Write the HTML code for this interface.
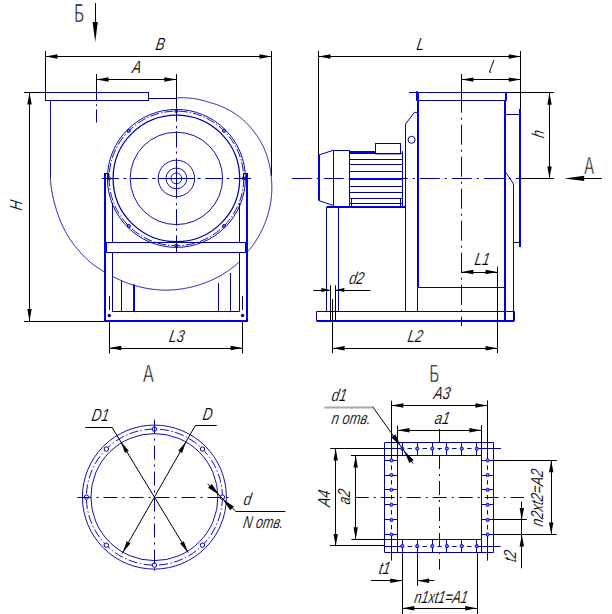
<!DOCTYPE html>
<html><head><meta charset="utf-8"><style>
html,body{margin:0;padding:0;background:#fff;width:612px;height:614px;overflow:hidden}
svg{display:block}
line,polyline,rect,circle,path{fill:none}
.k{stroke:#000;stroke-width:1}
.g{stroke:#aaa;stroke-width:2}
.bho{stroke:#000098;stroke-width:1;fill:#fff}
.kt{stroke:#222;stroke-width:1.1;fill:none}
.b{stroke:#000098;stroke-width:1}
.bs{stroke:#1010a8;stroke-width:1}
.bm{stroke:#0000a8;stroke-width:1.25}
.bd{stroke:#1010a8;stroke-width:1;stroke-dasharray:4 3}
.bda{stroke:#1010a8;stroke-width:1;stroke-dasharray:9 2.5 1.5 2.5}
.bdd{stroke:#1010a8;stroke-width:1;stroke-dasharray:9 2 1.5 2}
.bd2{stroke:#0000b8;stroke-width:1;stroke-dasharray:3 3}
.bh{stroke:#0000e0;stroke-width:1;fill:#8080ff}
.bf{fill:#0000b0;stroke:none}
.B{stroke:#0000e0;stroke-width:2}
.c1{stroke:#000098;stroke-width:1;stroke-dasharray:14 6 2 6}
.c2{stroke:#000098;stroke-width:1;stroke-dasharray:20 5 2 5}
.c3{stroke:#000098;stroke-width:1;stroke-dasharray:14 5 2 5}
.t{font-family:"Liberation Sans",sans-serif;font-style:italic;fill:#000;stroke:#fff;stroke-width:0.15px}
.tu{font-family:"Liberation Sans",sans-serif;fill:#000;stroke:#fff;stroke-width:0.6px}
</style></head><body>
<svg width="612" height="614" viewBox="0 0 612 614">
<text transform="translate(74.3,21.9) scale(0.6,1)" class="tu" font-size="25" text-anchor="start">Б</text>
<line x1="95.5" y1="3" x2="95.5" y2="30" class="k"/>
<polygon points="95.2,42 92.6,22 97.8,22" fill="#000"/>
<line x1="45.5" y1="51" x2="45.5" y2="92.5" class="k"/>
<line x1="271.5" y1="51" x2="271.5" y2="176" class="k"/>
<line x1="45.5" y1="56.5" x2="271.5" y2="56.5" class="k"/>
<polygon points="45.5,56.5 57.5,54.3 57.5,58.7" fill="#000"/>
<polygon points="271.5,56.5 259.5,58.7 259.5,54.3" fill="#000"/>
<text transform="translate(155,49.6) skewX(-10) scale(0.77,1)" class="t" font-size="17.4" text-anchor="start">B</text>
<line x1="96.5" y1="74" x2="96.5" y2="92.5" class="k"/>
<line x1="176.5" y1="74" x2="176.5" y2="108.5" class="k"/>
<line x1="96.5" y1="79.5" x2="176.4" y2="79.5" class="k"/>
<polygon points="96.5,79.5 108.5,77.3 108.5,81.7" fill="#000"/>
<polygon points="176.4,79.5 164.4,81.7 164.4,77.3" fill="#000"/>
<text transform="translate(131.5,72.6) skewX(-10) scale(0.77,1)" class="t" font-size="17.4" text-anchor="start">A</text>
<line x1="24" y1="92.5" x2="45.5" y2="92.5" class="k"/>
<line x1="24" y1="321.5" x2="104" y2="321.5" class="k"/>
<line x1="29.5" y1="92.5" x2="29.5" y2="321" class="k"/>
<polygon points="29.5,92.5 31.7,104.5 27.3,104.5" fill="#000"/>
<polygon points="29.5,321 27.3,309 31.7,309" fill="#000"/>
<text transform="translate(21.5,211) rotate(-90) skewX(-10) scale(0.77,1)" class="t" font-size="17.4" text-anchor="start">H</text>
<rect x="45.5" y="92.5" width="103" height="8" class="b"/>
<line x1="148.5" y1="98.5" x2="176.4" y2="98.5" class="b"/>
<line x1="50.5" y1="100.5" x2="50.5" y2="178.4" class="bs"/>
<polyline points="176.4,97.9 176.96,97.86 177.53,97.83 178.09,97.8 178.65,97.78 179.22,97.76 179.78,97.74 180.35,97.73 180.91,97.72 181.48,97.72 182.04,97.71 182.61,97.72 183.17,97.72 183.74,97.74 184.31,97.75 184.87,97.77 185.44,97.79 186.01,97.82 186.58,97.85 187.14,97.89 187.71,97.93 188.28,97.97 188.84,98.02 189.41,98.07 189.98,98.12 190.54,98.18 191.11,98.24 191.68,98.31 192.24,98.38 192.81,98.46 193.38,98.54 193.94,98.62 194.51,98.71 195.07,98.8 195.63,98.89 196.2,98.99 196.76,99.09 197.33,99.2 197.89,99.31 198.45,99.43 199.01,99.55 199.57,99.67 200.13,99.8 200.69,99.93 201.25,100.06 201.81,100.2 202.37,100.35 202.92,100.49 203.48,100.64 204.03,100.8 204.59,100.96 205.14,101.12 205.69,101.29 206.24,101.46 206.79,101.63 207.34,101.81 207.89,101.99 208.44,102.18 209,102.34 209.57,102.48 210.14,102.63 210.7,102.78 211.27,102.93 211.84,103.09 212.4,103.25 212.97,103.42 213.54,103.59 214.1,103.76 214.67,103.94 215.23,104.13 215.79,104.31 216.35,104.51 216.92,104.7 217.48,104.9 218.04,105.11 218.6,105.31 219.15,105.53 219.71,105.74 220.27,105.97 220.82,106.19 221.38,106.42 221.93,106.66 222.48,106.89 223.03,107.14 223.58,107.38 224.13,107.63 224.68,107.89 225.23,108.15 225.77,108.41 226.31,108.68 226.86,108.95 227.4,109.23 227.94,109.51 228.48,109.79 229.01,110.08 229.55,110.37 230.08,110.67 230.61,110.97 231.14,111.28 231.67,111.59 232.2,111.9 232.72,112.22 233.25,112.54 233.77,112.87 234.29,113.2 234.81,113.53 235.33,113.87 235.84,114.21 236.35,114.56 236.86,114.91 237.37,115.26 237.88,115.62 238.39,115.98 238.89,116.35 239.39,116.72 239.89,117.09 240.38,117.47 240.88,117.85 241.36,118.25 241.83,118.65 242.3,119.06 242.76,119.48 243.23,119.9 243.69,120.32 244.14,120.75 244.6,121.18 245.05,121.61 245.5,122.05 245.94,122.49 246.39,122.93 246.83,123.38 247.27,123.83 247.7,124.28 248.13,124.74 248.56,125.2 248.99,125.66 249.41,126.13 249.83,126.6 250.25,127.07 250.66,127.55 251.08,128.03 251.48,128.51 251.89,129 252.29,129.49 252.69,129.99 253.08,130.48 253.48,130.98 253.87,131.48 254.25,131.99 254.63,132.5 255.01,133.01 255.39,133.53 255.76,134.05 256.13,134.57 256.5,135.09 256.86,135.62 257.22,136.15 257.57,136.68 257.92,137.22 258.27,137.76 258.62,138.3 258.96,138.84 259.3,139.39 259.63,139.94 259.96,140.5 260.29,141.05 260.61,141.61 260.93,142.17 261.24,142.74 261.56,143.3 261.86,143.87 262.17,144.44 262.47,145.02 262.76,145.59 263.06,146.17 263.35,146.75 263.63,147.34 263.91,147.93 264.18,148.52 264.43,149.12 264.68,149.72 264.92,150.32 265.16,150.92 265.4,151.53 265.63,152.14 265.86,152.75 266.08,153.36 266.3,153.97 266.52,154.59 266.73,155.21 266.93,155.83 267.14,156.45 267.33,157.07 267.53,157.7 267.72,158.32 267.9,158.95 268.08,159.58 268.26,160.21 268.43,160.84 268.6,161.48 268.76,162.11 268.92,162.75 269.08,163.39 269.23,164.03 269.37,164.67 269.52,165.31 269.65,165.96 269.79,166.6 269.91,167.25 270.04,167.9 270.16,168.55 270.27,169.2 270.38,169.85 270.49,170.5 270.59,171.15 270.69,171.81 270.78,172.46 270.87,173.12 270.95,173.78 271.03,174.43 271.1,175.09 271.17,175.75 271.23,176.41 271.29,177.07 271.35,177.74 271.4,178.4 271.46,179.06 271.52,179.73 271.57,180.39 271.62,181.06 271.66,181.73 271.7,182.39 271.73,183.06 271.76,183.73 271.78,184.4 271.8,185.07 271.82,185.74 271.83,186.41 271.83,187.08 271.83,187.76 271.83,188.43 271.82,189.1 271.8,189.78 271.78,190.45 271.76,191.12 271.73,191.8 271.7,192.47 271.66,193.15 271.62,193.82 271.57,194.5 271.52,195.17 271.46,195.85 271.4,196.52 271.33,197.2 271.26,197.87 271.19,198.55 271.11,199.22 271.02,199.9 270.93,200.57 270.83,201.25 270.73,201.92 270.63,202.59 270.52,203.27 270.4,203.94 270.28,204.61 270.16,205.29 270.03,205.96 269.9,206.63 269.76,207.3 269.62,207.97 269.47,208.64 269.31,209.31 269.16,209.98 268.99,210.64 268.83,211.31 268.65,211.98 268.48,212.64 268.29,213.31 268.11,213.97 267.92,214.63 267.72,215.3 267.52,215.96 267.31,216.62 267.1,217.27 266.89,217.93 266.67,218.59 266.44,219.24 266.21,219.9 265.98,220.55 265.74,221.2 265.49,221.85 265.25,222.5 264.99,223.15 264.73,223.8 264.47,224.44 264.2,225.09 263.93,225.73 263.65,226.37 263.37,227.01 263.09,227.64 262.8,228.28 262.5,228.91 262.2,229.55 261.89,230.18 261.59,230.81 261.27,231.43 260.95,232.06 260.63,232.68 260.3,233.3 259.97,233.92 259.63,234.54 259.29,235.16 258.94,235.77 258.59,236.38 258.24,236.99 257.88,237.6 257.51,238.2 257.15,238.81 256.77,239.41 256.4,240 256.01,240.6 255.63,241.19 255.24,241.79 254.84,242.37 254.44,242.96 254.04,243.55 253.63,244.13 253.22,244.71 252.8,245.28 252.38,245.86 251.95,246.43 251.52,247 251.09,247.56 250.65,248.12 250.21,248.69 249.76,249.24 249.31,249.8 248.85,250.35 248.39,250.9 248.05,251.31" class="bs"/>
<polyline points="238.88,262.23 238.34,262.72 237.79,263.21 237.24,263.69 236.68,264.17 236.12,264.65 235.56,265.12 234.99,265.59 234.42,266.06 233.84,266.52 233.27,266.98 232.68,267.43 232.1,267.88 231.51,268.33 230.92,268.77 230.32,269.21 229.72,269.65 229.12,270.08 228.51,270.51 227.9,270.93 227.29,271.35 226.67,271.76 226.05,272.17 225.43,272.58 224.8,272.98 224.17,273.38 223.54,273.78 222.9,274.17 222.26,274.55 221.62,274.94 220.98,275.31 220.33,275.69 219.67,276.06 219.02,276.42 218.36,276.78 217.7,277.14 217.04,277.49 216.37,277.83 215.7,278.18 215.03,278.51 214.36,278.85 213.68,279.18 213,279.5 212.31,279.82 211.63,280.14 210.94,280.45 210.25,280.75 209.56,281.05 208.86,281.35 208.16,281.64 207.46,281.93 206.76,282.21 206.05,282.49 205.34,282.76 204.63,283.03 203.92,283.29 203.2,283.55 202.48,283.8 201.76,284.05 201.04,284.29 200.32,284.53 199.59,284.76 198.86,284.99 198.13,285.22 197.4,285.44 196.66,285.65 195.93,285.86 195.19,286.06 194.45,286.26 193.71,286.45 192.96,286.64 192.22,286.82 191.47,287 190.72,287.17 189.97,287.34 189.22,287.51 188.46,287.68 187.71,287.84 186.95,287.99 186.19,288.14 185.43,288.29 184.67,288.43 183.91,288.56 183.15,288.69 182.38,288.82 181.61,288.94 180.84,289.05 180.07,289.16 179.3,289.26 178.53,289.36 177.76,289.45 176.98,289.54 176.21,289.62 175.43,289.7 174.65,289.77 173.87,289.83 173.09,289.89 172.31,289.95 171.53,289.99 170.74,290.04 169.96,290.07 169.18,290.11 168.39,290.13 167.61,290.14 166.82,290.14 166.03,290.14 165.25,290.13 164.46,290.12 163.67,290.1 162.89,290.08 162.1,290.05 161.31,290.01 160.52,289.97 159.73,289.92 158.94,289.87 158.16,289.81 157.37,289.75 156.58,289.68 155.79,289.6 155,289.52 154.21,289.44 153.42,289.35 152.64,289.25 151.85,289.15 151.06,289.04 150.27,288.93 149.49,288.81 148.7,288.68 147.91,288.55 147.13,288.41 146.34,288.27 145.56,288.12 144.77,287.97 143.99,287.81 143.21,287.65 142.43,287.48 141.64,287.3 140.86,287.12 140.08,286.94 139.31,286.74 138.53,286.55 137.75,286.34 136.98,286.13 136.2,285.92 135.43,285.7 134.65,285.47 133.88,285.24 133.11,285 132.34,284.76 131.58,284.51 130.81,284.26 130.04,284 129.28,283.74 128.52,283.47 127.76,283.19 127,282.91 126.24,282.62 125.48,282.33 124.73,282.03 123.98,281.73 123.23,281.42 122.48,281.11 121.73,280.79 120.98,280.47 120.24,280.14 119.5,279.8 118.76,279.46 118.02,279.11 117.28,278.76 116.55,278.4 115.82,278.04 115.09,277.67 114.36,277.3 113.64,276.92 112.91,276.54 112.91,276.54" class="bs"/>
<polyline points="103.99,271.75 103.28,271.32 102.57,270.89 101.86,270.45 101.15,270.01 100.45,269.56 99.75,269.11 99.05,268.65 98.35,268.19 97.66,267.72 96.97,267.24 96.28,266.76 95.59,266.28 94.91,265.78 94.23,265.29 93.56,264.79 92.88,264.28 92.21,263.77 91.55,263.25 90.91,262.71 90.27,262.15 89.64,261.6 89.01,261.04 88.39,260.47 87.77,259.9 87.15,259.32 86.54,258.74 85.93,258.16 85.33,257.57 84.72,256.98 84.13,256.38 83.53,255.77 82.94,255.17 82.36,254.56 81.77,253.94 81.2,253.32 80.62,252.69 80.05,252.06 79.49,251.43 78.92,250.79 78.37,250.15 77.81,249.5 77.26,248.85 76.72,248.2 76.18,247.54 75.64,246.87 75.11,246.21 74.58,245.54 74.06,244.86 73.54,244.18 73.03,243.5 72.52,242.81 72.02,242.12 71.51,241.42 71.02,240.72 70.53,240.02 70.04,239.31 69.56,238.6 69.08,237.89 68.64,237.15 68.2,236.42 67.76,235.68 67.33,234.94 66.91,234.19 66.49,233.44 66.07,232.69 65.66,231.93 65.26,231.18 64.86,230.41 64.46,229.65 64.07,228.88 63.69,228.11 63.31,227.34 62.94,226.56 62.57,225.78 62.21,225 61.85,224.22 61.5,223.43 61.15,222.64 60.81,221.85 60.47,221.05 60.14,220.26 59.82,219.46 59.5,218.65 59.18,217.85 58.88,217.04 58.57,216.23 58.28,215.42 57.99,214.6 57.7,213.79 57.42,212.97 57.15,212.15 56.88,211.32 56.61,210.5 56.36,209.67 56.1,208.84 55.86,208.01 55.62,207.17 55.38,206.34 55.14,205.51 54.9,204.67 54.66,203.83 54.43,202.99 54.21,202.15 53.99,201.31 53.78,200.46 53.58,199.62 53.38,198.77 53.18,197.92 52.99,197.06 52.81,196.21 52.64,195.35 52.47,194.5 52.3,193.64 52.14,192.78 51.99,191.92 51.84,191.05 51.7,190.19 51.57,189.32 51.44,188.45 51.32,187.59 51.2,186.72 51.09,185.84 50.99,184.97 50.89,184.1 50.8,183.23 50.71,182.35 50.63,181.47 50.56,180.6 50.49,179.72 50.43,178.84 50.4,178.4" class="bs"/>
<circle cx="176.4" cy="178.4" r="69" class="bs"/>
<circle cx="176.4" cy="178.4" r="67.3" class="bdd"/>
<circle cx="176.4" cy="178.4" r="63.3" class="bm"/>
<circle cx="243.7" cy="178.4" r="1.5" class="bh"/>
<circle cx="223.99" cy="225.99" r="1.5" class="bh"/>
<circle cx="176.4" cy="245.7" r="1.5" class="bh"/>
<circle cx="128.81" cy="225.99" r="1.5" class="bh"/>
<circle cx="109.1" cy="178.4" r="1.5" class="bh"/>
<circle cx="128.81" cy="130.81" r="1.5" class="bh"/>
<circle cx="176.4" cy="111.1" r="1.5" class="bh"/>
<circle cx="223.99" cy="130.81" r="1.5" class="bh"/>
<circle cx="176.4" cy="178.4" r="46.2" class="bs"/>
<circle cx="176.4" cy="178.4" r="18.2" class="bs"/>
<circle cx="176.4" cy="178.4" r="10.4" class="bs"/>
<circle cx="176.4" cy="178.4" r="5.4" class="bs"/>
<line x1="101.7" y1="178.5" x2="118.9" y2="178.5" class="b"/>
<line x1="123.5" y1="178.5" x2="126.1" y2="178.5" class="b"/>
<line x1="130.7" y1="178.5" x2="147.7" y2="178.5" class="b"/>
<line x1="152.2" y1="178.5" x2="155.5" y2="178.5" class="b"/>
<line x1="158.2" y1="178.5" x2="194.6" y2="178.5" class="b"/>
<line x1="197.3" y1="178.5" x2="200.6" y2="178.5" class="b"/>
<line x1="205.1" y1="178.5" x2="222.1" y2="178.5" class="b"/>
<line x1="226.7" y1="178.5" x2="229.3" y2="178.5" class="b"/>
<line x1="233.9" y1="178.5" x2="251.1" y2="178.5" class="b"/>
<line x1="176.5" y1="108.5" x2="176.5" y2="121.5" class="b"/>
<line x1="176.5" y1="126" x2="176.5" y2="128.4" class="b"/>
<line x1="176.5" y1="131.3" x2="176.5" y2="147.6" class="b"/>
<line x1="176.5" y1="151.5" x2="176.5" y2="153.7" class="b"/>
<line x1="176.5" y1="158.2" x2="176.5" y2="198.6" class="b"/>
<line x1="176.5" y1="203.1" x2="176.5" y2="205.3" class="b"/>
<line x1="176.5" y1="209.2" x2="176.5" y2="225.5" class="b"/>
<line x1="176.5" y1="228.4" x2="176.5" y2="230.8" class="b"/>
<line x1="176.5" y1="235.3" x2="176.5" y2="252.4" class="b"/>
<line x1="96.5" y1="92.5" x2="96.5" y2="100.5" class="b"/>
<line x1="96.5" y1="104.3" x2="96.5" y2="106" class="b"/>
<line x1="96.5" y1="109.4" x2="96.5" y2="122.5" class="b"/>
<line x1="105" y1="173" x2="105" y2="321.5" class="B"/>
<line x1="104.4" y1="173.5" x2="108.8" y2="173.5" class="b"/>
<line x1="108.5" y1="173" x2="108.5" y2="178" class="b"/>
<line x1="112.5" y1="203" x2="112.5" y2="242.5" class="b"/>
<line x1="112.5" y1="252.5" x2="112.5" y2="311.5" class="b"/>
<line x1="247" y1="173" x2="247" y2="321.5" class="B"/>
<line x1="239.5" y1="203" x2="239.5" y2="242.5" class="b"/>
<line x1="239.5" y1="252.5" x2="239.5" y2="311.5" class="b"/>
<line x1="248" y1="173.5" x2="243.6" y2="173.5" class="b"/>
<line x1="243.5" y1="173" x2="243.5" y2="178" class="b"/>
<line x1="105" y1="242.5" x2="246" y2="242.5" class="b"/>
<line x1="105" y1="252.5" x2="246" y2="252.5" class="b"/>
<line x1="106" y1="242.5" x2="106" y2="252.5" class="B"/>
<line x1="246" y1="242.5" x2="246" y2="252.5" class="B"/>
<line x1="104" y1="321" x2="248" y2="321" class="B"/>
<line x1="112.4" y1="311.5" x2="239.5" y2="311.5" class="b"/>
<line x1="121.5" y1="280.5" x2="121.5" y2="311.5" class="b"/>
<line x1="134" y1="284.5" x2="134" y2="311.5" class="B"/>
<line x1="218.5" y1="283" x2="218.5" y2="311.5" class="b"/>
<line x1="230.5" y1="273" x2="230.5" y2="311.5" class="b"/>
<line x1="109.5" y1="296" x2="109.5" y2="310" class="b"/>
<circle cx="109.3" cy="315.5" r="1.7" class="bf"/>
<line x1="242.5" y1="296" x2="242.5" y2="310" class="b"/>
<circle cx="242.6" cy="315.5" r="1.7" class="bf"/>
<line x1="109.5" y1="321" x2="109.5" y2="353.5" class="k"/>
<line x1="242.5" y1="321" x2="242.5" y2="353.5" class="k"/>
<line x1="109.3" y1="348.5" x2="242.6" y2="348.5" class="k"/>
<polygon points="109.3,348 121.3,345.8 121.3,350.2" fill="#000"/>
<polygon points="242.6,348 230.6,350.2 230.6,345.8" fill="#000"/>
<text transform="translate(168.5,342.2) skewX(-10) scale(0.77,1)" class="t" font-size="17.4" text-anchor="start">L3</text>
<line x1="318.5" y1="51" x2="318.5" y2="155" class="k"/>
<line x1="520.5" y1="51" x2="520.5" y2="109.1" class="k"/>
<line x1="318.5" y1="56.5" x2="520.8" y2="56.5" class="k"/>
<polygon points="318.5,56.5 330.5,54.3 330.5,58.7" fill="#000"/>
<polygon points="520.8,56.5 508.8,58.7 508.8,54.3" fill="#000"/>
<text transform="translate(416,50) skewX(-10) scale(0.77,1)" class="t" font-size="17.4" text-anchor="start">L</text>
<line x1="461.5" y1="74" x2="461.5" y2="92.7" class="k"/>
<line x1="461.4" y1="79.5" x2="520.8" y2="79.5" class="k"/>
<polygon points="461.4,79.6 473.4,77.4 473.4,81.8" fill="#000"/>
<polygon points="520.8,79.6 508.8,81.8 508.8,77.4" fill="#000"/>
<path d="M494,60 L489.6,71.3 Q489.3,72.6 491.3,72" class="kt"/>
<line x1="507" y1="92.5" x2="554" y2="92.5" class="k"/>
<line x1="520.8" y1="178.5" x2="554" y2="178.5" class="k"/>
<line x1="549.5" y1="92.7" x2="549.5" y2="178.4" class="k"/>
<polygon points="549.5,92.7 551.7,104.7 547.3,104.7" fill="#000"/>
<polygon points="549.5,178.4 547.3,166.4 551.7,166.4" fill="#000"/>
<text transform="translate(543.8,138.5) rotate(-90) skewX(-10) scale(0.77,1)" class="t" font-size="17.4" text-anchor="start">h</text>
<line x1="583" y1="178.5" x2="601.7" y2="178.5" class="k"/>
<polygon points="564.2,178.4 584.2,175.8 584.2,181" fill="#000"/>
<text transform="translate(584.3,173.5) scale(0.6,1)" class="tu" font-size="24.5" text-anchor="start">A</text>
<line x1="291.8" y1="178.5" x2="520" y2="178.5" class="c2"/>
<line x1="461.5" y1="92.7" x2="461.5" y2="326" class="c2"/>
<line x1="409" y1="92.5" x2="507" y2="92.5" class="b"/>
<line x1="417" y1="100.5" x2="506" y2="100.5" class="b"/>
<line x1="417" y1="91.2" x2="417" y2="100.7" class="B"/>
<line x1="506" y1="92" x2="506" y2="100.7" class="B"/>
<line x1="418" y1="92.7" x2="418" y2="287.6" class="B"/>
<line x1="417.5" y1="287.6" x2="417.5" y2="311.5" class="b"/>
<line x1="505" y1="100.5" x2="505" y2="321" class="B"/>
<line x1="417.8" y1="287.5" x2="505" y2="287.5" class="b"/>
<line x1="505" y1="114.5" x2="520.3" y2="114.5" class="b"/>
<line x1="520" y1="109.1" x2="520" y2="247" class="B"/>
<line x1="513.7" y1="242.5" x2="520.3" y2="242.5" class="b"/>
<line x1="505.9" y1="172.4" x2="513.7" y2="184.2" class="b"/>
<line x1="513.5" y1="184.2" x2="513.5" y2="321" class="b"/>
<line x1="316.6" y1="311.5" x2="514.3" y2="311.5" class="b"/>
<line x1="316.6" y1="321" x2="514.3" y2="321" class="B"/>
<line x1="316.5" y1="311.5" x2="316.5" y2="320.8" class="b"/>
<line x1="514.5" y1="311.5" x2="514.5" y2="320.8" class="b"/>
<line x1="326.5" y1="206.9" x2="326.5" y2="311.5" class="b"/>
<line x1="338.5" y1="206.9" x2="338.5" y2="311.5" class="b"/>
<line x1="405.5" y1="124.1" x2="405.5" y2="311.5" class="b"/>
<line x1="326.7" y1="207" x2="405.5" y2="207" class="B"/>
<polyline points="405.5,124.1 414.4,112.4 417.9,112.4" class="b"/>
<circle cx="411.6" cy="139.8" r="3.5" class="b"/>
<line x1="333.5" y1="150.2" x2="318.8" y2="155" class="b"/>
<line x1="318.8" y1="200.6" x2="333.5" y2="205.5" class="b"/>
<line x1="319" y1="155" x2="319" y2="200.6" class="B"/>
<line x1="333.5" y1="150" x2="333.5" y2="205.5" class="b"/>
<line x1="333.5" y1="150.5" x2="349.8" y2="150.5" class="b"/>
<line x1="349.5" y1="150.4" x2="349.5" y2="206" class="b"/>
<line x1="349.8" y1="152" x2="375.2" y2="152" class="B"/>
<rect x="375.5" y="143.5" width="25" height="10.4" class="b"/>
<line x1="349.8" y1="153.5" x2="402.3" y2="153.5" class="b"/>
<line x1="349.8" y1="159.5" x2="402.3" y2="159.5" class="b"/>
<line x1="349.8" y1="164.5" x2="402.3" y2="164.5" class="b"/>
<line x1="349.8" y1="171.5" x2="402.3" y2="171.5" class="b"/>
<line x1="349.8" y1="186.5" x2="402.3" y2="186.5" class="b"/>
<line x1="349.8" y1="192.5" x2="402.3" y2="192.5" class="b"/>
<line x1="349.8" y1="198.5" x2="402.3" y2="198.5" class="b"/>
<line x1="349.8" y1="203.5" x2="402.3" y2="203.5" class="b"/>
<line x1="349.8" y1="179" x2="402.3" y2="179" class="B"/>
<line x1="402.5" y1="151.2" x2="402.5" y2="206" class="b"/>
<line x1="400.5" y1="198.5" x2="400.5" y2="206" class="b"/>
<line x1="351.5" y1="198.5" x2="351.5" y2="206" class="b"/>
<line x1="330.5" y1="285.4" x2="330.5" y2="320" class="k"/>
<line x1="335.5" y1="285.4" x2="335.5" y2="320" class="k"/>
<line x1="313.3" y1="290.5" x2="330.4" y2="290.5" class="k"/>
<line x1="335.4" y1="290.5" x2="370.5" y2="290.5" class="k"/>
<polygon points="330.4,290.1 321.4,292.1 321.4,288.1" fill="#000"/>
<polygon points="335.4,290.1 344.4,288.1 344.4,292.1" fill="#000"/>
<text transform="translate(348.4,284) skewX(-10) scale(0.77,1)" class="t" font-size="17.4" text-anchor="start">d2</text>
<line x1="332.5" y1="299" x2="332.5" y2="353.2" class="k"/>
<line x1="497.5" y1="266.7" x2="497.5" y2="353" class="k"/>
<line x1="332.6" y1="348.5" x2="497.5" y2="348.5" class="k"/>
<polygon points="332.6,348.2 344.6,346 344.6,350.4" fill="#000"/>
<polygon points="497.5,348.2 485.5,350.4 485.5,346" fill="#000"/>
<text transform="translate(407,342) skewX(-10) scale(0.77,1)" class="t" font-size="17.4" text-anchor="start">L2</text>
<line x1="461.4" y1="272.5" x2="497.5" y2="272.5" class="k"/>
<polygon points="461.4,272 473.4,269.8 473.4,274.2" fill="#000"/>
<polygon points="497.5,272 485.5,274.2 485.5,269.8" fill="#000"/>
<text transform="translate(474,265) skewX(-10) scale(0.77,1)" class="t" font-size="17.4" text-anchor="start">L1</text>
<text transform="translate(143.1,382) scale(0.66,1)" class="tu" font-size="24.5" text-anchor="start">A</text>
<circle cx="154.4" cy="497.1" r="72" class="bs"/>
<circle cx="154.4" cy="497.1" r="68" class="bda"/>
<circle cx="154.4" cy="497.1" r="63.5" class="bs"/>
<circle cx="222.4" cy="497.1" r="2.2" class="bho"/>
<circle cx="202.48" cy="545.18" r="2.2" class="bho"/>
<circle cx="154.4" cy="565.1" r="2.2" class="bho"/>
<circle cx="106.32" cy="545.18" r="2.2" class="bho"/>
<circle cx="86.4" cy="497.1" r="2.2" class="bho"/>
<circle cx="106.32" cy="449.02" r="2.2" class="bho"/>
<circle cx="154.4" cy="429.1" r="2.2" class="bho"/>
<circle cx="202.48" cy="449.02" r="2.2" class="bho"/>
<line x1="77.5" y1="497.5" x2="231" y2="497.5" class="c3"/>
<line x1="154.5" y1="419.6" x2="154.5" y2="575.5" class="c3"/>
<line x1="85.3" y1="427.5" x2="111.8" y2="427.5" class="k"/>
<line x1="111.8" y1="427" x2="188.16" y2="552.65" class="k"/>
<polygon points="120.64,441.55 128.76,450.67 125,452.95" fill="#000"/>
<polygon points="188.16,552.65 180.04,543.53 183.8,541.25" fill="#000"/>
<text transform="translate(91,420.7) skewX(-10) scale(0.77,1)" class="t" font-size="17.4" text-anchor="start">D1</text>
<line x1="195.3" y1="425.5" x2="216.7" y2="425.5" class="k"/>
<line x1="195.3" y1="425.5" x2="122.16" y2="553.54" class="k"/>
<polygon points="186.14,441.53 182.1,453.04 178.28,450.86" fill="#000"/>
<polygon points="122.66,552.67 126.7,541.16 130.52,543.34" fill="#000"/>
<text transform="translate(202,419.5) skewX(-10) scale(0.77,1)" class="t" font-size="17.4" text-anchor="start">D</text>
<line x1="207.6" y1="483.9" x2="235.8" y2="511.3" class="k"/>
<line x1="235.8" y1="511.5" x2="285.3" y2="511.5" class="k"/>
<polygon points="219.3,495 208.16,487.81 211.79,484.08" fill="#000"/>
<polygon points="222.7,499.3 233.84,506.49 230.21,510.22" fill="#000"/>
<text transform="translate(243,505) skewX(-10) scale(0.77,1)" class="t" font-size="17.4" text-anchor="start">d</text>
<text transform="translate(242.6,527.7) skewX(-10) scale(0.74,1)" class="t" font-size="17" text-anchor="start">N отв.</text>
<text transform="translate(429.5,381.5) scale(0.6,1)" class="tu" font-size="24.5" text-anchor="start">Б</text>
<line x1="384.5" y1="442.5" x2="493.6" y2="442.5" class="b"/>
<line x1="384.5" y1="552.5" x2="493.6" y2="552.5" class="b"/>
<line x1="384.5" y1="442.5" x2="384.5" y2="552.3" class="b"/>
<line x1="493.5" y1="442.5" x2="493.5" y2="552.3" class="b"/>
<line x1="397.5" y1="442.5" x2="397.5" y2="552.3" class="b"/>
<line x1="481.5" y1="442.5" x2="481.5" y2="552.3" class="b"/>
<line x1="397.5" y1="455.5" x2="481.6" y2="455.5" class="b"/>
<line x1="397.5" y1="539.5" x2="481.6" y2="539.5" class="b"/>
<line x1="384.5" y1="448.5" x2="402.3" y2="448.5" class="b"/>
<line x1="407.55" y1="448.5" x2="411.95" y2="448.5" class="b"/>
<line x1="422.55" y1="448.5" x2="426.95" y2="448.5" class="b"/>
<line x1="437.4" y1="448.5" x2="441.8" y2="448.5" class="b"/>
<line x1="452.15" y1="448.5" x2="456.55" y2="448.5" class="b"/>
<line x1="467.1" y1="448.5" x2="471.5" y2="448.5" class="b"/>
<line x1="476.8" y1="448.5" x2="501" y2="448.5" class="b"/>
<line x1="384.5" y1="546.5" x2="402.3" y2="546.5" class="b"/>
<line x1="407.55" y1="546.5" x2="411.95" y2="546.5" class="b"/>
<line x1="422.55" y1="546.5" x2="426.95" y2="546.5" class="b"/>
<line x1="437.4" y1="546.5" x2="441.8" y2="546.5" class="b"/>
<line x1="452.15" y1="546.5" x2="456.55" y2="546.5" class="b"/>
<line x1="467.1" y1="546.5" x2="471.5" y2="546.5" class="b"/>
<line x1="476.8" y1="546.5" x2="500.6" y2="546.5" class="b"/>
<line x1="391.5" y1="442.5" x2="391.5" y2="460.3" class="b"/>
<line x1="391.5" y1="465.45" x2="391.5" y2="469.85" class="b"/>
<line x1="391.5" y1="480.2" x2="391.5" y2="484.6" class="b"/>
<line x1="391.5" y1="495.05" x2="391.5" y2="499.45" class="b"/>
<line x1="391.5" y1="510.1" x2="391.5" y2="514.5" class="b"/>
<line x1="391.5" y1="525" x2="391.5" y2="529.4" class="b"/>
<line x1="391.5" y1="534.5" x2="391.5" y2="560.6" class="b"/>
<line x1="487.5" y1="442.5" x2="487.5" y2="460.3" class="b"/>
<line x1="487.5" y1="465.45" x2="487.5" y2="469.85" class="b"/>
<line x1="487.5" y1="480.2" x2="487.5" y2="484.6" class="b"/>
<line x1="487.5" y1="495.05" x2="487.5" y2="499.45" class="b"/>
<line x1="487.5" y1="510.1" x2="487.5" y2="514.5" class="b"/>
<line x1="487.5" y1="525" x2="487.5" y2="529.4" class="b"/>
<line x1="487.5" y1="534.5" x2="487.5" y2="560.7" class="b"/>
<line x1="402.5" y1="442.5" x2="402.5" y2="455.4" class="b"/>
<line x1="402.5" y1="539.4" x2="402.5" y2="552.3" class="b"/>
<circle cx="402.3" cy="448.6" r="1.6" class="bh"/>
<circle cx="402.3" cy="546.1" r="1.6" class="bh"/>
<line x1="417.5" y1="442.5" x2="417.5" y2="455.4" class="b"/>
<line x1="417.5" y1="539.4" x2="417.5" y2="552.3" class="b"/>
<circle cx="417.2" cy="448.6" r="1.6" class="bh"/>
<circle cx="417.2" cy="546.1" r="1.6" class="bh"/>
<line x1="432.5" y1="442.5" x2="432.5" y2="455.4" class="b"/>
<line x1="432.5" y1="539.4" x2="432.5" y2="552.3" class="b"/>
<circle cx="432.3" cy="448.6" r="1.6" class="bh"/>
<circle cx="432.3" cy="546.1" r="1.6" class="bh"/>
<line x1="446.5" y1="442.5" x2="446.5" y2="455.4" class="b"/>
<line x1="446.5" y1="539.4" x2="446.5" y2="552.3" class="b"/>
<circle cx="446.9" cy="448.6" r="1.6" class="bh"/>
<circle cx="446.9" cy="546.1" r="1.6" class="bh"/>
<line x1="461.5" y1="442.5" x2="461.5" y2="455.4" class="b"/>
<line x1="461.5" y1="539.4" x2="461.5" y2="552.3" class="b"/>
<circle cx="461.8" cy="448.6" r="1.6" class="bh"/>
<circle cx="461.8" cy="546.1" r="1.6" class="bh"/>
<line x1="476.5" y1="442.5" x2="476.5" y2="455.4" class="b"/>
<line x1="476.5" y1="539.4" x2="476.5" y2="552.3" class="b"/>
<circle cx="476.8" cy="448.6" r="1.6" class="bh"/>
<circle cx="476.8" cy="546.1" r="1.6" class="bh"/>
<line x1="384.5" y1="460.5" x2="397.5" y2="460.5" class="b"/>
<line x1="481.6" y1="460.5" x2="493.6" y2="460.5" class="b"/>
<circle cx="391.4" cy="460.3" r="1.6" class="bh"/>
<circle cx="487.6" cy="460.3" r="1.6" class="bh"/>
<line x1="384.5" y1="475.5" x2="397.5" y2="475.5" class="b"/>
<line x1="481.6" y1="475.5" x2="493.6" y2="475.5" class="b"/>
<circle cx="391.4" cy="475" r="1.6" class="bh"/>
<circle cx="487.6" cy="475" r="1.6" class="bh"/>
<line x1="384.5" y1="489.5" x2="397.5" y2="489.5" class="b"/>
<line x1="481.6" y1="489.5" x2="493.6" y2="489.5" class="b"/>
<circle cx="391.4" cy="489.8" r="1.6" class="bh"/>
<circle cx="487.6" cy="489.8" r="1.6" class="bh"/>
<line x1="384.5" y1="504.5" x2="397.5" y2="504.5" class="b"/>
<line x1="481.6" y1="504.5" x2="493.6" y2="504.5" class="b"/>
<circle cx="391.4" cy="504.7" r="1.6" class="bh"/>
<circle cx="487.6" cy="504.7" r="1.6" class="bh"/>
<line x1="384.5" y1="519.5" x2="397.5" y2="519.5" class="b"/>
<line x1="481.6" y1="519.5" x2="493.6" y2="519.5" class="b"/>
<circle cx="391.4" cy="519.9" r="1.6" class="bh"/>
<circle cx="487.6" cy="519.9" r="1.6" class="bh"/>
<line x1="384.5" y1="534.5" x2="397.5" y2="534.5" class="b"/>
<line x1="481.6" y1="534.5" x2="493.6" y2="534.5" class="b"/>
<circle cx="391.4" cy="534.5" r="1.6" class="bh"/>
<circle cx="487.6" cy="534.5" r="1.6" class="bh"/>
<line x1="354.7" y1="497.5" x2="524" y2="497.5" class="c3"/>
<line x1="439.5" y1="429" x2="439.5" y2="569.7" class="c3"/>
<line x1="391.5" y1="400.8" x2="391.5" y2="442.3" class="k"/>
<line x1="487.5" y1="400.4" x2="487.5" y2="442.3" class="k"/>
<line x1="391.4" y1="405.5" x2="487.4" y2="405.5" class="k"/>
<polygon points="391.4,405.5 403.4,403.3 403.4,407.7" fill="#000"/>
<polygon points="487.4,405.5 475.4,407.7 475.4,403.3" fill="#000"/>
<text transform="translate(433,398.5) skewX(-10) scale(0.77,1)" class="t" font-size="17.4" text-anchor="start">A3</text>
<line x1="397.5" y1="425.6" x2="397.5" y2="455.5" class="k"/>
<line x1="481.5" y1="425.2" x2="481.5" y2="455.5" class="k"/>
<line x1="397.5" y1="430.5" x2="481.4" y2="430.5" class="k"/>
<polygon points="397.5,430.2 409.5,428 409.5,432.4" fill="#000"/>
<polygon points="481.4,430.2 469.4,432.4 469.4,428" fill="#000"/>
<text transform="translate(434,423.6) skewX(-10) scale(0.77,1)" class="t" font-size="17.4" text-anchor="start">a1</text>
<line x1="330.2" y1="448.5" x2="384.4" y2="448.5" class="k"/>
<line x1="330" y1="545.5" x2="384.4" y2="545.5" class="k"/>
<line x1="335.5" y1="448.6" x2="335.5" y2="545.9" class="k"/>
<polygon points="335.7,448.6 337.9,460.6 333.5,460.6" fill="#000"/>
<polygon points="335.7,545.9 333.5,533.9 337.9,533.9" fill="#000"/>
<text transform="translate(329.6,507.3) rotate(-90) skewX(-10) scale(0.77,1)" class="t" font-size="17.4" text-anchor="start">A4</text>
<line x1="351" y1="455.5" x2="397.5" y2="455.5" class="k"/>
<line x1="351.4" y1="539.5" x2="397.5" y2="539.5" class="k"/>
<line x1="355.5" y1="455.4" x2="355.5" y2="539.2" class="k"/>
<polygon points="355.7,455.4 357.9,467.4 353.5,467.4" fill="#000"/>
<polygon points="355.7,539.2 353.5,527.2 357.9,527.2" fill="#000"/>
<text transform="translate(350.3,505) rotate(-90) skewX(-10) scale(0.77,1)" class="t" font-size="17.4" text-anchor="start">a2</text>
<line x1="324.4" y1="407.5" x2="372.7" y2="407.5" class="g"/>
<line x1="372.7" y1="406.7" x2="413" y2="463.5" class="k"/>
<polygon points="400.8,446.3 391.16,437.2 395.4,434.19" fill="#000"/>
<polygon points="404,450.8 413.64,459.9 409.4,462.91" fill="#000"/>
<text transform="translate(331,400.8) skewX(-10) scale(0.77,1)" class="t" font-size="17.4" text-anchor="start">d1</text>
<text transform="translate(331,424) skewX(-10) scale(0.76,1)" class="t" font-size="17" text-anchor="start">n отв.</text>
<line x1="493.6" y1="460.5" x2="556.8" y2="460.5" class="k"/>
<line x1="493.6" y1="534.5" x2="556.7" y2="534.5" class="k"/>
<line x1="493.6" y1="519.5" x2="526.8" y2="519.5" class="k"/>
<line x1="551.5" y1="460.3" x2="551.5" y2="534.5" class="k"/>
<polygon points="551.2,460.3 553.4,472.3 549,472.3" fill="#000"/>
<polygon points="551.2,534.5 549,522.5 553.4,522.5" fill="#000"/>
<line x1="521.5" y1="501.8" x2="521.5" y2="568.3" class="k"/>
<polygon points="521.8,519.9 519.6,507.9 524,507.9" fill="#000"/>
<polygon points="521.8,534.5 524,546.5 519.6,546.5" fill="#000"/>
<text transform="translate(542.5,527) rotate(-90) skewX(-10) scale(0.77,1)" class="t" font-size="17.4" text-anchor="start">n2xt2=A2</text>
<text transform="translate(516.3,562.4) rotate(-90) skewX(-10) scale(0.77,1)" class="t" font-size="17.4" text-anchor="start">t2</text>
<line x1="402.5" y1="552.8" x2="402.5" y2="614" class="k"/>
<line x1="417.5" y1="552.8" x2="417.5" y2="585.8" class="k"/>
<line x1="371" y1="580.5" x2="402.3" y2="580.5" class="k"/>
<line x1="417.2" y1="580.5" x2="434.4" y2="580.5" class="k"/>
<polygon points="402.3,580.7 390.3,582.9 390.3,578.5" fill="#000"/>
<polygon points="417.2,580.7 429.2,578.5 429.2,582.9" fill="#000"/>
<text transform="translate(378.3,574.3) skewX(-10) scale(0.77,1)" class="t" font-size="17.4" text-anchor="start">t1</text>
<line x1="477.5" y1="552.8" x2="477.5" y2="614" class="k"/>
<line x1="402.3" y1="608.5" x2="477.1" y2="608.5" class="k"/>
<polygon points="402.3,608.2 414.3,606 414.3,610.4" fill="#000"/>
<polygon points="477.1,608.2 465.1,610.4 465.1,606" fill="#000"/>
<text transform="translate(413.8,602.9) skewX(-10) scale(0.72,1)" class="t" font-size="17.4" text-anchor="start">n1xt1=A1</text>
</svg>
</body></html>
